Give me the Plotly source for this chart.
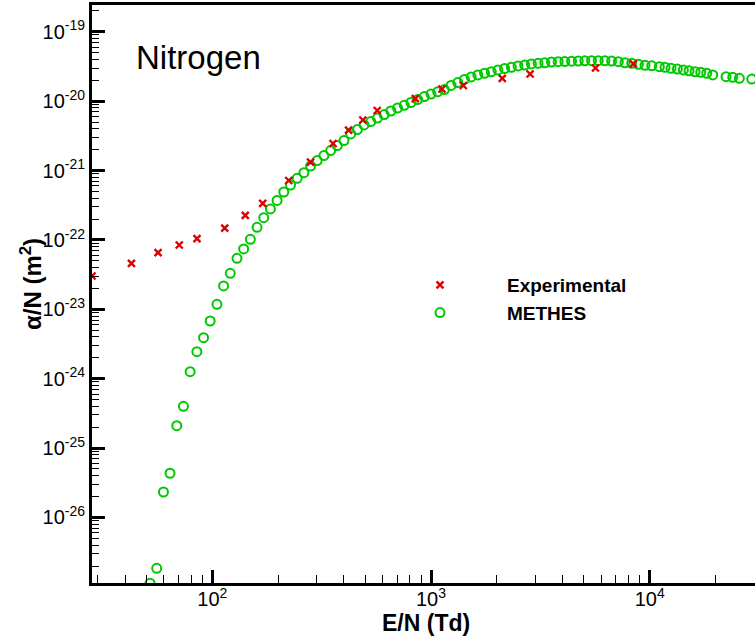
import plotly.graph_objects as go

# ---------------- data ----------------
exp_E = [28.2, 42.7, 56.5, 70.6, 85.1, 114, 141.5, 170, 223.6, 281.2, 356.5,
         419.8, 487.9, 567.6, 847.7, 1122, 1405, 2118, 2838, 5649, 8414]
exp_alpha = [3.02e-23, 4.60e-23, 6.54e-23, 8.45e-23, 1.04e-22, 1.48e-22, 2.26e-22,
             3.37e-22, 7.18e-22, 1.325e-21, 2.45e-21, 3.83e-21, 5.34e-21, 7.32e-21,
             1.089e-20, 1.494e-20, 1.68e-20, 2.12e-20, 2.46e-20, 3.00e-20, 3.43e-20]

methes_E = [51.9, 55.7, 59.8, 64.1, 68.8, 73.8, 79.2, 85.0, 91.2, 97.8,
            105.0, 112.6, 120.8, 129.7, 139.1, 149.3, 160.2, 171.9, 184.4, 197.9,
            212.3, 227.8, 244.4, 262.3, 281.3, 301.8, 323.9, 347.5, 372.9, 400.1,
            429.3, 460.7, 494.2, 530.3, 569.0, 610.6, 655.2, 703.0, 754.4, 809.4,
            868.5, 931.6, 999.6, 1072, 1151, 1235, 1325, 1422, 1526, 1637,
            1757, 1885, 2022, 2170, 2329, 2499, 2681, 2877, 3087, 3312,
            3554, 3814, 4092, 4391, 4711, 5050, 5419, 5814, 6239, 6694,
            7183, 7708, 8270, 8872, 9519, 10214,
            11064, 11749, 12515, 13372, 14245, 15124, 16110, 17113, 18224, 19413,
            22335, 23960, 25686, 29271]
methes_alpha = [1.13e-27, 1.85e-27, 2.33e-26, 4.34e-26, 2.10e-25, 4.00e-25, 1.26e-24, 2.45e-24, 3.90e-24, 6.78e-24,
                1.18e-23, 2.17e-23, 3.30e-23, 5.43e-23, 7.40e-23, 1.02e-22, 1.52e-22, 2.09e-22, 2.79e-22, 3.70e-22,
                4.90e-22, 6.18e-22, 7.73e-22, 9.29e-22, 1.16e-21, 1.39e-21, 1.64e-21, 1.94e-21, 2.29e-21, 2.70e-21,
                3.36e-21, 3.90e-21, 4.53e-21, 5.08e-21, 5.70e-21, 6.41e-21, 7.20e-21, 7.96e-21, 8.69e-21, 9.55e-21,
                1.054e-20, 1.164e-20, 1.265e-20, 1.361e-20, 1.469e-20, 1.68e-20, 1.85e-20, 2.05e-20, 2.23e-20, 2.38e-20,
                2.52e-20, 2.65e-20, 2.81e-20, 2.95e-20, 3.07e-20, 3.21e-20, 3.31e-20, 3.43e-20, 3.51e-20, 3.57e-20,
                3.66e-20, 3.70e-20, 3.72e-20, 3.76e-20, 3.78e-20, 3.81e-20, 3.82e-20, 3.82e-20, 3.81e-20, 3.78e-20,
                3.70e-20, 3.57e-20, 3.51e-20, 3.39e-20, 3.28e-20, 3.23e-20,
                3.13e-20, 3.07e-20, 2.97e-20, 2.90e-20, 2.81e-20, 2.74e-20, 2.65e-20, 2.60e-20, 2.52e-20, 2.38e-20,
                2.25e-20, 2.20e-20, 2.13e-20, 2.08e-20]

x_tickvals = [1e2, 1e3, 1e4]
x_ticktext = ["10<sup>2</sup>", "10<sup>3</sup>", "10<sup>4</sup>"]
y_tickvals = [1e-26, 1e-25, 1e-24, 1e-23, 1e-22, 1e-21, 1e-20, 1e-19]
y_ticktext = ["10<sup>-26</sup>", "10<sup>-25</sup>", "10<sup>-24</sup>", "10<sup>-23</sup>",
              "10<sup>-22</sup>", "10<sup>-21</sup>", "10<sup>-20</sup>", "10<sup>-19</sup>"]

FONT = "Liberation Sans, Arial, Helvetica, sans-serif"
L, R, T, B = 92, 755, 5, 583
W, H = R - L, B - T

fig = go.Figure()
fig.add_trace(go.Scatter(
    x=methes_E, y=methes_alpha, mode="markers", name="METHES", legendrank=2,
    marker=dict(symbol="circle-open", size=9, color="#00c800", line=dict(width=2, color="#00c800")),
))
fig.add_trace(go.Scatter(
    x=exp_E, y=exp_alpha, mode="markers", name="Experimental", legendrank=1,
    marker=dict(symbol="x-thin-open", size=7, color="#e00000", line=dict(width=2.4, color="#e00000")),
))

fig.update_layout(
    width=755, height=644,
    margin=dict(l=L, r=755 - R, t=T, b=644 - B),
    paper_bgcolor="white", plot_bgcolor="white",
    font=dict(family=FONT, color="black"),
    showlegend=True,
    legend=dict(
        x=(373 - L) / W, y=(B - 299) / H, xanchor="left", yanchor="middle",
        bgcolor="rgba(0,0,0,0)", font=dict(size=19, family=FONT, color="black", weight="bold"),
        itemwidth=124, tracegroupgap=0,
    ),
    annotations=[
        dict(
            text="Nitrogen", xref="paper", yref="paper",
            x=(134 - L) / W, y=(B - 57) / H, xanchor="left", yanchor="middle",
            showarrow=False, font=dict(size=33, family=FONT, color="black"),
        ),
        dict(
            text="<b>α/N (m<sup>2</sup>)</b>", xref="paper", yref="paper", textangle=-90,
            x=(31 - L) / W, y=(B - 284) / H, xanchor="center", yanchor="middle",
            showarrow=False, font=dict(size=24, family=FONT, color="black"),
        ),
        dict(
            text="<b>E/N (Td)</b>", xref="paper", yref="paper",
            x=(426 - L) / W, y=(B - 623) / H, xanchor="center", yanchor="middle",
            showarrow=False, font=dict(size=23, family=FONT, color="black"),
        ),
    ],
)

fig.update_xaxes(
    type="log", range=[1.450, 4.4813],
    showline=True, linecolor="black", linewidth=3, mirror=True,
    ticks="inside", ticklen=13, tickwidth=3, tickcolor="black",
    tickmode="array", tickvals=x_tickvals, ticktext=x_ticktext,
    tickfont=dict(size=20, family=FONT, color="black"),
    ticklabelstandoff=-4,
    minor=dict(ticks="inside", ticklen=8, tickwidth=1, tickcolor="black", dtick="D1", showgrid=False),
    showgrid=False, zeroline=False,
)
fig.update_yaxes(
    type="log", range=[-26.944, -18.615],
    showline=True, linecolor="black", linewidth=3, mirror=False,
    ticks="inside", ticklen=13, tickwidth=3, tickcolor="black",
    tickmode="array", tickvals=y_tickvals, ticktext=y_ticktext,
    tickfont=dict(size=20, family=FONT, color="black"),
    minor=dict(ticks="inside", ticklen=7, tickwidth=1, tickcolor="black", dtick="D1", showgrid=False),
    showgrid=False, zeroline=False,
)

fig.write_html("out.html")
